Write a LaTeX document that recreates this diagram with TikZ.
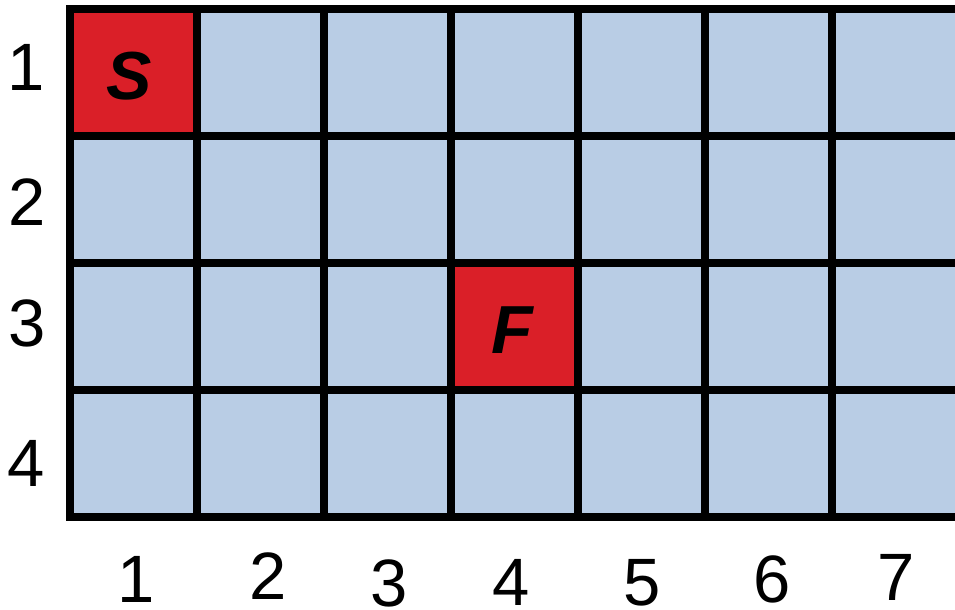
\documentclass[tikz,border=0pt]{standalone}
\usepackage{fontspec}
\setmainfont{Liberation Sans}
\definecolor{cellblue}{HTML}{B9CDE5}
\definecolor{cellred}{HTML}{DA1F28}
\begin{document}
\begin{tikzpicture}[x=0.5pt,y=-0.5pt,
  gridline/.style={line width=4pt,black,line cap=rect},
  axislabel/.style={inner sep=0pt,font=\fontsize{33.5}{33.5}\selectfont},
  celllabel/.style={inner sep=0pt,font=\fontsize{34}{34}\selectfont\bfseries\itshape}]
\useasboundingbox (0,0) rectangle (955,610);
\clip (0,0) rectangle (955,610);
\fill[white] (0,0) rectangle (955,610);
% cells
\fill[cellblue] (70,9) rectangle (959,517);
\fill[cellred] (70,9) rectangle (197,136);
\fill[cellred] (451,263) rectangle (578,390);
% grid lines
\foreach \i in {0,...,7} {
  \draw[gridline] ({70+127*\i},9) -- ({70+127*\i},517);
}
\foreach \j in {0,...,4} {
  \draw[gridline] (70,{9+127*\j}) -- (960,{9+127*\j});
}
% cell labels
\node[celllabel] (S) at (129,76) {S};
\node[celllabel] (F) at (512,330) {F};
% row labels
\node[axislabel] (r1) at (26,67) {1};
\node[axislabel] (r2) at (27,202) {2};
\node[axislabel] (r3) at (27,323) {3};
\node[axislabel] (r4) at (26,463) {4};
% column labels
\node[axislabel] (c1) at (136,579) {1};
\node[axislabel] (c2) at (268,576) {2};
\node[axislabel] (c3) at (389,583) {3};
\node[axislabel] (c4) at (511,582) {4};
\node[axislabel] (c5) at (642,583) {5};
\node[axislabel] (c6) at (772,579) {6};
\node[axislabel] (c7) at (896,577) {7};
\end{tikzpicture}
\end{document}
